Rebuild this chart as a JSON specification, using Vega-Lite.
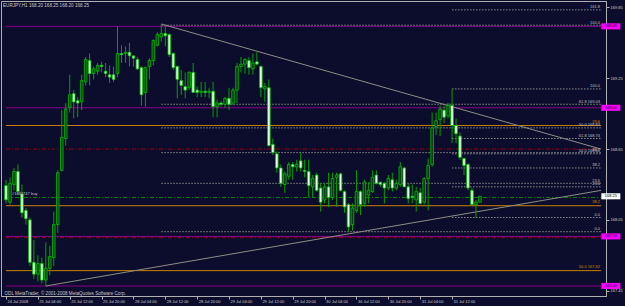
{
  "$schema": "https://vega.github.io/schema/vega-lite/v6.json",
  "width": 605,
  "height": 295,
  "autosize": {"type": "none"},
  "padding": {"left": 1, "top": 1, "right": 19, "bottom": 10},
  "background": "#0c0c2c",
  "config": {
    "view": {"stroke": "#b0b0b0", "strokeWidth": 1},
    "font": "Liberation Sans",
    "axis": {
      "grid": false,
      "labelFontSize": 4,
      "labelColor": "#d0d0d0",
      "labelFont": "Liberation Sans",
      "labelOverlap": false,
      "labelFlush": false,
      "labelBound": false,
      "tickSize": 3,
      "tickColor": "#b0b0b0",
      "domainColor": "#b0b0b0"
    }
  },
  "title": {
    "text": "EURJPY,H1  168.20 168.25 168.20 168.25",
    "anchor": "start",
    "frame": "group",
    "orient": "top",
    "offset": 0,
    "dx": 2,
    "dy": 7,
    "fontSize": 4.6,
    "fontWeight": "normal",
    "color": "#c8c8c8",
    "font": "Liberation Sans"
  },
  "datasets": {
    "candles": [
      {"i":0,"o":168.34,"h":168.39,"l":168.19,"c":168.22},
      {"i":1,"o":168.20,"h":168.41,"l":168.18,"c":168.36},
      {"i":2,"o":168.35,"h":168.49,"l":168.30,"c":168.46},
      {"i":3,"o":168.46,"h":168.52,"l":168.26,"c":168.29},
      {"i":4,"o":168.27,"h":168.35,"l":168.07,"c":168.11},
      {"i":5,"o":168.13,"h":168.15,"l":168.01,"c":168.06},
      {"i":6,"o":168.05,"h":168.07,"l":167.66,"c":167.69},
      {"i":7,"o":167.69,"h":167.88,"l":167.55,"c":167.59},
      {"i":8,"o":167.59,"h":167.75,"l":167.53,"c":167.68},
      {"i":9,"o":167.68,"h":167.73,"l":167.51,"c":167.54},
      {"i":10,"o":167.54,"h":167.86,"l":167.49,"c":167.64},
      {"i":11,"o":167.64,"h":167.83,"l":167.58,"c":167.74},
      {"i":12,"o":167.73,"h":168.12,"l":167.66,"c":168.01},
      {"i":13,"o":168.01,"h":168.47,"l":167.94,"c":168.45},
      {"i":14,"o":168.47,"h":168.98,"l":168.46,"c":168.75},
      {"i":15,"o":168.74,"h":169.04,"l":168.68,"c":168.99},
      {"i":16,"o":169.00,"h":169.28,"l":168.96,"c":169.11},
      {"i":17,"o":169.12,"h":169.15,"l":168.91,"c":169.05},
      {"i":18,"o":169.06,"h":169.09,"l":168.92,"c":169.04},
      {"i":19,"o":169.05,"h":169.28,"l":168.98,"c":169.23},
      {"i":20,"o":169.22,"h":169.43,"l":169.19,"c":169.41},
      {"i":21,"o":169.40,"h":169.46,"l":169.19,"c":169.29},
      {"i":22,"o":169.29,"h":169.35,"l":169.24,"c":169.33},
      {"i":23,"o":169.31,"h":169.38,"l":169.28,"c":169.36},
      {"i":24,"o":169.36,"h":169.39,"l":169.30,"c":169.35},
      {"i":25,"o":169.31,"h":169.38,"l":169.26,"c":169.29},
      {"i":26,"o":169.28,"h":169.36,"l":169.21,"c":169.26},
      {"i":27,"o":169.28,"h":169.35,"l":169.22,"c":169.24},
      {"i":28,"o":169.29,"h":169.69,"l":169.26,"c":169.46},
      {"i":29,"o":169.46,"h":169.53,"l":169.38,"c":169.45},
      {"i":30,"o":169.46,"h":169.52,"l":169.38,"c":169.47},
      {"i":31,"o":169.47,"h":169.55,"l":169.35,"c":169.44},
      {"i":32,"o":169.44,"h":169.44,"l":169.35,"c":169.42},
      {"i":33,"o":169.41,"h":169.43,"l":169.32,"c":169.33},
      {"i":34,"o":169.34,"h":169.35,"l":169.02,"c":169.11},
      {"i":35,"o":169.13,"h":169.35,"l":169.01,"c":169.34},
      {"i":36,"o":169.35,"h":169.42,"l":169.24,"c":169.40},
      {"i":37,"o":169.40,"h":169.58,"l":169.36,"c":169.57},
      {"i":38,"o":169.53,"h":169.64,"l":169.52,"c":169.62},
      {"i":39,"o":169.60,"h":169.71,"l":169.56,"c":169.63},
      {"i":40,"o":169.63,"h":169.69,"l":169.52,"c":169.61},
      {"i":41,"o":169.62,"h":169.63,"l":169.43,"c":169.45},
      {"i":42,"o":169.46,"h":169.47,"l":169.32,"c":169.34},
      {"i":43,"o":169.35,"h":169.36,"l":169.08,"c":169.24},
      {"i":44,"o":169.23,"h":169.32,"l":169.11,"c":169.19},
      {"i":45,"o":169.18,"h":169.30,"l":169.08,"c":169.15},
      {"i":46,"o":169.17,"h":169.31,"l":169.15,"c":169.30},
      {"i":47,"o":169.30,"h":169.38,"l":169.13,"c":169.13},
      {"i":48,"o":169.15,"h":169.18,"l":169.09,"c":169.13},
      {"i":49,"o":169.13,"h":169.22,"l":169.09,"c":169.14},
      {"i":50,"o":169.14,"h":169.22,"l":169.09,"c":169.13},
      {"i":51,"o":169.13,"h":169.17,"l":169.08,"c":169.14},
      {"i":52,"o":169.14,"h":169.22,"l":168.92,"c":169.01},
      {"i":53,"o":169.01,"h":169.07,"l":168.92,"c":169.04},
      {"i":54,"o":169.04,"h":169.06,"l":169.01,"c":169.03},
      {"i":55,"o":169.03,"h":169.09,"l":169.00,"c":169.08},
      {"i":56,"o":169.08,"h":169.17,"l":168.98,"c":169.03},
      {"i":57,"o":169.04,"h":169.17,"l":169.02,"c":169.15},
      {"i":58,"o":169.15,"h":169.38,"l":169.04,"c":169.35},
      {"i":59,"o":169.35,"h":169.43,"l":169.30,"c":169.37},
      {"i":60,"o":169.37,"h":169.42,"l":169.29,"c":169.41},
      {"i":61,"o":169.40,"h":169.43,"l":169.28,"c":169.34},
      {"i":62,"o":169.33,"h":169.46,"l":169.28,"c":169.38},
      {"i":63,"o":169.39,"h":169.47,"l":169.36,"c":169.37},
      {"i":64,"o":169.35,"h":169.36,"l":169.09,"c":169.17},
      {"i":65,"o":169.16,"h":169.21,"l":169.05,"c":169.18},
      {"i":66,"o":169.17,"h":169.24,"l":168.67,"c":168.68},
      {"i":67,"o":168.69,"h":168.74,"l":168.60,"c":168.62},
      {"i":68,"o":168.61,"h":168.63,"l":168.45,"c":168.49},
      {"i":69,"o":168.49,"h":168.52,"l":168.33,"c":168.36},
      {"i":70,"o":168.35,"h":168.46,"l":168.28,"c":168.44},
      {"i":71,"o":168.42,"h":168.54,"l":168.39,"c":168.52},
      {"i":72,"o":168.52,"h":168.54,"l":168.39,"c":168.50},
      {"i":73,"o":168.50,"h":168.56,"l":168.46,"c":168.52},
      {"i":74,"o":168.55,"h":168.62,"l":168.46,"c":168.49},
      {"i":75,"o":168.47,"h":168.56,"l":168.41,"c":168.46},
      {"i":76,"o":168.46,"h":168.56,"l":168.24,"c":168.34},
      {"i":77,"o":168.33,"h":168.43,"l":168.24,"c":168.40},
      {"i":78,"o":168.43,"h":168.45,"l":168.29,"c":168.30},
      {"i":79,"o":168.32,"h":168.36,"l":168.12,"c":168.20},
      {"i":80,"o":168.22,"h":168.36,"l":168.19,"c":168.33},
      {"i":81,"o":168.33,"h":168.45,"l":168.16,"c":168.24},
      {"i":82,"o":168.24,"h":168.45,"l":168.22,"c":168.40},
      {"i":83,"o":168.41,"h":168.45,"l":168.16,"c":168.43},
      {"i":84,"o":168.44,"h":168.45,"l":168.29,"c":168.30},
      {"i":85,"o":168.29,"h":168.30,"l":168.11,"c":168.16},
      {"i":86,"o":168.18,"h":168.19,"l":167.95,"c":167.99},
      {"i":87,"o":168.01,"h":168.19,"l":167.96,"c":168.15},
      {"i":88,"o":168.13,"h":168.47,"l":168.11,"c":168.29},
      {"i":89,"o":168.29,"h":168.30,"l":168.09,"c":168.18},
      {"i":90,"o":168.19,"h":168.39,"l":168.16,"c":168.37},
      {"i":91,"o":168.26,"h":168.37,"l":168.19,"c":168.30},
      {"i":92,"o":168.29,"h":168.47,"l":168.28,"c":168.41},
      {"i":93,"o":168.43,"h":168.47,"l":168.35,"c":168.36},
      {"i":94,"o":168.37,"h":168.37,"l":168.33,"c":168.35},
      {"i":95,"o":168.36,"h":168.37,"l":168.19,"c":168.32},
      {"i":96,"o":168.32,"h":168.43,"l":168.30,"c":168.40},
      {"i":97,"o":168.39,"h":168.45,"l":168.29,"c":168.32},
      {"i":98,"o":168.32,"h":168.39,"l":168.30,"c":168.36},
      {"i":99,"o":168.35,"h":168.54,"l":168.33,"c":168.50},
      {"i":100,"o":168.49,"h":168.50,"l":168.33,"c":168.33},
      {"i":101,"o":168.33,"h":168.36,"l":168.19,"c":168.23},
      {"i":102,"o":168.25,"h":168.35,"l":168.19,"c":168.24},
      {"i":103,"o":168.22,"h":168.33,"l":168.12,"c":168.29},
      {"i":104,"o":168.28,"h":168.32,"l":168.18,"c":168.19},
      {"i":105,"o":168.20,"h":168.41,"l":168.18,"c":168.40},
      {"i":106,"o":168.40,"h":168.57,"l":168.13,"c":168.51},
      {"i":107,"o":168.52,"h":168.96,"l":168.50,"c":168.83},
      {"i":108,"o":168.84,"h":168.96,"l":168.77,"c":168.89},
      {"i":109,"o":168.90,"h":169.02,"l":168.76,"c":168.99},
      {"i":110,"o":168.98,"h":169.02,"l":168.87,"c":168.92},
      {"i":111,"o":168.93,"h":169.04,"l":168.91,"c":169.02},
      {"i":112,"o":169.02,"h":169.16,"l":168.70,"c":168.85},
      {"i":113,"o":168.85,"h":168.91,"l":168.70,"c":168.78},
      {"i":114,"o":168.76,"h":168.79,"l":168.56,"c":168.58},
      {"i":115,"o":168.57,"h":168.58,"l":168.43,"c":168.51},
      {"i":116,"o":168.52,"h":168.53,"l":168.30,"c":168.32},
      {"i":117,"o":168.30,"h":168.32,"l":168.18,"c":168.18},
      {"i":118,"o":168.18,"h":168.22,"l":168.07,"c":168.20},
      {"i":119,"o":168.20,"h":168.25,"l":168.20,"c":168.25}
    ],
    "levels": [
      {"kind":"magenta","from":0,"price":169.69},
      {"kind":"magenta","from":0,"price":169.00},
      {"kind":"magenta","from":0,"price":167.91},
      {"kind":"magenta","from":0,"price":167.49},
      {"kind":"orange","from":0,"price":168.85,"label":"23.6"},
      {"kind":"orange","from":0,"price":168.17,"label":"38.2"},
      {"kind":"orange","from":0,"price":167.62,"label":"50.0  167.62"},
      {"kind":"red","from":0,"price":168.65},
      {"kind":"red","from":0,"price":167.90},
      {"kind":"green","from":0,"price":168.24,"tag":"#1682747 buy"},
      {"kind":"fib","from":39,"price":169.70,"label":"100.0"},
      {"kind":"fib","from":39,"price":169.03,"label":"61.8  169.03"},
      {"kind":"fib","from":39,"price":168.83,"label":"50.0  168.83"},
      {"kind":"fib","from":39,"price":168.62,"label":"38.2"},
      {"kind":"fib","from":39,"price":168.36,"label":"23.6"},
      {"kind":"fib","from":39,"price":167.95,"label":"0.0"},
      {"kind":"fib","from":112,"price":169.83,"label":"161.8"},
      {"kind":"fib","from":112,"price":169.16,"label":"100.0"},
      {"kind":"fib","from":112,"price":168.74,"label":"61.8  168.74"},
      {"kind":"fib","from":112,"price":168.61,"label":"50.0  168.61"},
      {"kind":"fib","from":112,"price":168.49,"label":"38.2"},
      {"kind":"fib","from":112,"price":168.33,"label":"23.6"},
      {"kind":"fib","from":112,"price":168.07,"label":"0.0"}
    ],
    "trend": [
      {"line":"down","i":39,"p":169.71},
      {"line":"down","i":149.4,"p":168.65},
      {"line":"up","i":10,"p":167.49},
      {"line":"up","i":149.4,"p":168.30}
    ],
    "boxes": [
      {"kind":"magenta","price":169.69,"label":"169.69"},
      {"kind":"magenta","price":169.00,"label":"169.00"},
      {"kind":"magenta","price":167.91,"label":"167.91"},
      {"kind":"magenta","price":167.49,"label":"167.49"},
      {"kind":"bid","price":168.25,"label":"168.25"}
    ]
  },
  "layer": [
    {
      "data": {"name": "levels"},
      "transform": [{"filter": "datum.kind == 'magenta'"}],
      "mark": {"type": "rule", "strokeWidth": 1, "color": "#8c008c"},
      "encoding": {
        "x": {"field": "from", "type": "quantitative",
          "scale": {"domain": [0, 149.4], "nice": false, "zero": false},
          "axis": {
            "orient": "bottom",
            "values": [0,8,16,24,32,40,48,56,64,72,80,88,96,104,112],
            "labelExpr": "['24 Jul 2008','25 Jul 04:00','25 Jul 12:00','25 Jul 20:00','28 Jul 04:00','28 Jul 12:00','28 Jul 20:00','29 Jul 04:00','29 Jul 12:00','29 Jul 20:00','30 Jul 04:00','30 Jul 12:00','30 Jul 20:00','31 Jul 04:00','31 Jul 12:00'][round(datum.value/8)]",
            "labelAlign": "left",
            "labelBaseline": "top",
            "labelPadding": 0,
            "labelOffset": 1,
            "title": "ODL MetaTrader, © 2001-2008 MetaQuotes Software Corp.",
            "titleAnchor": "start",
            "titleAlign": "left",
            "titleBaseline": "bottom",
            "titleX": 3,
            "titleY": -1,
            "titleFontSize": 4.6,
            "titleFontWeight": "normal",
            "titleColor": "#c8c8c8",
            "titleFont": "Liberation Sans"
          }
        },
        "x2": {"datum": 149.4},
        "y": {"field": "price", "type": "quantitative",
          "scale": {"domain": [167.405, 169.905], "nice": false, "zero": false},
          "axis": {
            "orient": "right",
            "values": [167.45,167.6,167.75,167.9,168.05,168.2,168.35,168.5,168.65,168.8,168.95,169.1,169.25,169.4,169.55,169.7,169.85],
            "format": ".2f",
            "labelPadding": 1,
            "title": ""
          }
        }
      }
    },
    {
      "data": {"name": "levels"},
      "transform": [{"filter": "datum.kind == 'orange'"}],
      "mark": {"type": "rule", "strokeWidth": 1, "color": "#c88000"},
      "encoding": {
        "x": {"field": "from", "type": "quantitative"},
        "x2": {"datum": 149.4},
        "y": {"field": "price", "type": "quantitative"}
      }
    },
    {
      "data": {"name": "levels"},
      "transform": [{"filter": "datum.kind == 'red'"}],
      "mark": {"type": "rule", "strokeWidth": 1, "color": "#a00000", "strokeDash": [4, 2, 1, 2]},
      "encoding": {
        "x": {"field": "from", "type": "quantitative"},
        "x2": {"datum": 149.4},
        "y": {"field": "price", "type": "quantitative"}
      }
    },
    {
      "data": {"name": "levels"},
      "transform": [{"filter": "datum.kind == 'green'"}],
      "mark": {"type": "rule", "strokeWidth": 1, "color": "#008800", "strokeDash": [4, 2, 1, 2]},
      "encoding": {
        "x": {"field": "from", "type": "quantitative"},
        "x2": {"datum": 149.4},
        "y": {"field": "price", "type": "quantitative"}
      }
    },
    {
      "data": {"name": "levels"},
      "transform": [{"filter": "datum.kind == 'fib'"}],
      "mark": {"type": "rule", "strokeWidth": 1, "color": "#8c8c8c", "strokeDash": [1.5, 1.5]},
      "encoding": {
        "x": {"field": "from", "type": "quantitative"},
        "x2": {"datum": 149.4},
        "y": {"field": "price", "type": "quantitative"}
      }
    },
    {
      "data": {"name": "trend"},
      "mark": {"type": "line", "color": "#8e8e84", "strokeWidth": 1},
      "encoding": {
        "x": {"field": "i", "type": "quantitative"},
        "y": {"field": "p", "type": "quantitative"},
        "detail": {"field": "line", "type": "nominal"}
      }
    },
    {
      "data": {"name": "candles"},
      "mark": {"type": "rule", "color": "#00a000", "strokeWidth": 1},
      "encoding": {
        "x": {"field": "i", "type": "quantitative"},
        "y": {"field": "l", "type": "quantitative"},
        "y2": {"field": "h"}
      }
    },
    {
      "data": {"name": "candles"},
      "mark": {"type": "bar", "width": 2.6, "stroke": "#00c000", "strokeWidth": 0.8},
      "encoding": {
        "x": {"field": "i", "type": "quantitative"},
        "y": {"field": "o", "type": "quantitative"},
        "y2": {"field": "c"},
        "fill": {"condition": {"test": "datum.c < datum.o", "value": "#e4ffe4"}, "value": "#0b3c12"}
      }
    },
    {
      "data": {"name": "levels"},
      "transform": [{"filter": "datum.kind == 'fib'"}],
      "mark": {"type": "text", "align": "right", "baseline": "bottom", "dx": -1, "dy": -0.5, "fontSize": 4, "font": "Liberation Sans", "color": "#c0c0c0"},
      "encoding": {
        "x": {"datum": 149.4},
        "y": {"field": "price", "type": "quantitative"},
        "text": {"field": "label"}
      }
    },
    {
      "data": {"name": "levels"},
      "transform": [{"filter": "datum.kind == 'orange'"}],
      "mark": {"type": "text", "align": "right", "baseline": "bottom", "dx": -1, "dy": -1.5, "fontSize": 4, "font": "Liberation Sans", "color": "#d89000"},
      "encoding": {
        "x": {"datum": 149.4},
        "y": {"field": "price", "type": "quantitative"},
        "text": {"field": "label"}
      }
    },
    {
      "data": {"name": "levels"},
      "transform": [{"filter": "datum.kind == 'green'"}],
      "mark": {"type": "text", "align": "left", "baseline": "bottom", "dx": 6, "dy": -1, "fontSize": 4, "font": "Liberation Sans", "color": "#c0c0c0"},
      "encoding": {
        "x": {"field": "from", "type": "quantitative"},
        "y": {"field": "price", "type": "quantitative"},
        "text": {"field": "tag"}
      }
    },
    {
      "data": {"name": "boxes"},
      "mark": {"type": "point", "filled": true, "opacity": 1, "shape": "M-1,-0.32H1V0.32H-1Z", "size": 361, "strokeWidth": 0},
      "encoding": {
        "x": {"datum": 151.87},
        "y": {"field": "price", "type": "quantitative"},
        "fill": {"condition": {"test": "datum.kind == 'bid'", "value": "#ffffff"}, "value": "#ff00ff"}
      }
    },
    {
      "data": {"name": "boxes"},
      "mark": {"type": "text", "align": "center", "baseline": "middle", "fontSize": 4, "font": "Liberation Sans", "color": "#000000"},
      "encoding": {
        "x": {"datum": 151.87},
        "y": {"field": "price", "type": "quantitative"},
        "text": {"field": "label"}
      }
    }
  ]
}
